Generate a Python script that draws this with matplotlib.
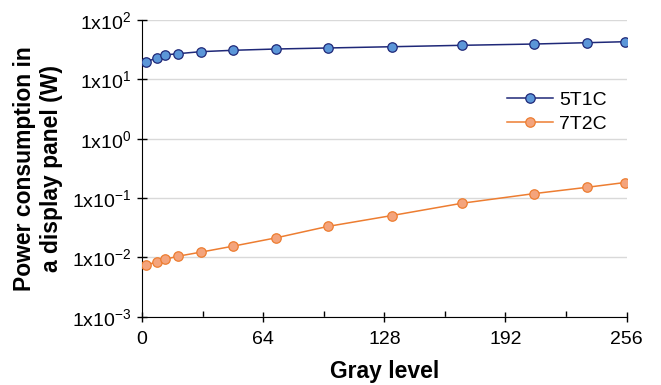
import math
import matplotlib
matplotlib.use('Agg')
import matplotlib.pyplot as plt
from matplotlib.ticker import FixedLocator, FuncFormatter, NullLocator

plt.rcParams['font.family'] = ['Liberation Sans', 'DejaVu Sans']
plt.rcParams['mathtext.fontset'] = 'custom'
plt.rcParams['mathtext.rm'] = 'Liberation Sans'

# gray levels
gray = [2, 8, 12, 19, 31, 48, 71, 98, 132, 169, 207, 235, 255]
p_5t1c = [19.9, 22.9, 25.8, 27.1, 29.3, 30.9, 32.5, 33.8, 35.5, 37.5, 39.4, 41.5, 43.1]
p_7t2c = [0.0076, 0.0083, 0.0093, 0.0105, 0.0123, 0.0155, 0.0215, 0.0333, 0.0509, 0.082, 0.119, 0.152, 0.183]

fig = plt.figure(figsize=(6.61, 3.85), dpi=100)
ax = fig.add_axes([0.215, 0.177, 0.733, 0.771])

ax.plot(gray, p_5t1c, color='#1f2878', lw=1.1, marker='o', ms=6.8,
        mfc='#5b96d8', mec='#1f2878', mew=0.9, label='5T1C', zorder=3)
ax.plot(gray, p_7t2c, color='#ed7d31', lw=1.1, marker='o', ms=6.8,
        mfc='#f4a47c', mec='#ed7d31', mew=0.9, label='7T2C', zorder=3)

ax.set_yscale('log')
ax.set_ylim(1e-3, 1e2)
ax.set_xlim(0, 256)
ax.yaxis.set_major_locator(FixedLocator([1e-3, 1e-2, 1e-1, 1e0, 1e1, 1e2]))
ax.yaxis.set_minor_locator(NullLocator())
ax.yaxis.set_major_formatter(FuncFormatter(
    lambda v, pos: r'$\mathregular{1x10^{%d}}$' % round(math.log10(v))))
ax.xaxis.set_major_locator(FixedLocator([0, 64, 128, 192, 256]))
ax.xaxis.set_minor_locator(FixedLocator([32, 96, 160, 224]))

ax.grid(axis='y', color='#d9d9d9', lw=1.0)
ax.set_axisbelow(True)
for s in ['top', 'right']:
    ax.spines[s].set_visible(False)

ax.tick_params(axis='both', which='major', direction='inout', length=7, width=1,
               labelsize=14, colors='black')
ax.tick_params(axis='x', which='minor', direction='in', length=4, width=1)
ax.tick_params(axis='x', pad=7)
ax.tick_params(axis='y', pad=4)

ax.set_xlabel('Gray level', fontsize=16.5, fontweight='bold', labelpad=8)
ax.set_ylabel('Power consumption in\na display panel (W)', fontsize=16.5,
              fontweight='bold', labelpad=7, linespacing=1.2)

ax.legend(loc='upper right', bbox_to_anchor=(0.995, 0.82), frameon=False,
          fontsize=14, handlelength=2.4, labelspacing=0.35, handletextpad=0.3)

fig.savefig('out.png', dpi=100)
